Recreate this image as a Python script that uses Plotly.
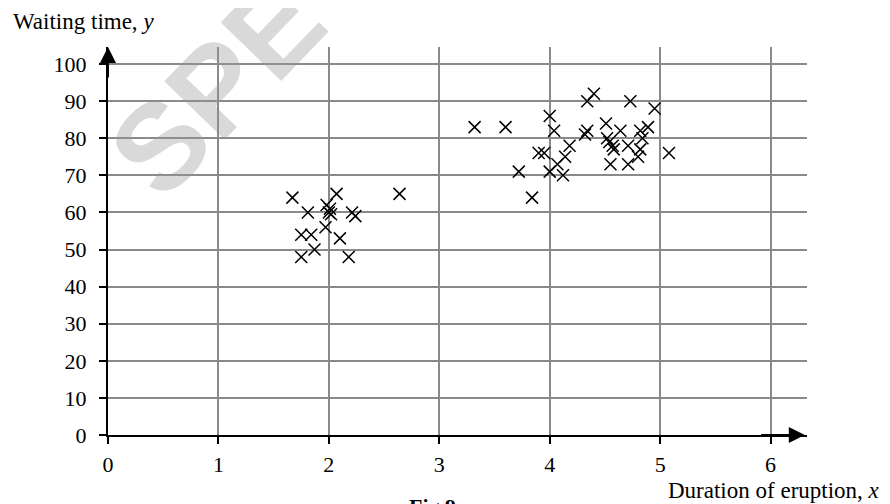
import plotly.graph_objects as go

# Duration of eruption (x) and waiting time (y)
duration = [1.67, 2.07, 1.81, 1.98, 2.00, 2.02, 2.01, 2.21, 2.24, 1.97, 1.75, 1.84,
            2.10, 1.87, 1.75, 2.18, 2.64,
            3.32, 3.60, 4.00, 4.04, 4.18, 4.14, 3.90, 3.95, 4.07, 4.00, 3.72, 4.12, 3.84,
            4.40, 4.34, 4.73, 4.95, 4.51, 4.34, 4.32, 4.64, 4.82, 4.89, 4.84, 4.52, 4.54,
            4.57, 4.58, 4.71, 4.82, 4.80, 4.55, 4.71, 5.08]
waiting = [64, 65, 60, 62, 60, 59.5, 61, 60, 59, 56, 54, 54,
           53, 50, 48, 48, 65,
           83, 83, 86, 82, 78, 75, 76, 76, 73, 71, 71, 70, 64,
           92, 90, 90, 88, 84, 82, 81, 82, 82, 83, 80, 80, 79,
           78, 77, 78, 77, 75, 73, 73, 76]

x_ticks = [0, 1, 2, 3, 4, 5, 6]
y_ticks = [0, 10, 20, 30, 40, 50, 60, 70, 80, 90, 100]

SERIF = "Liberation Serif"
GRID = "#8a8a8a"

# page has an 8px body margin; figure coordinates = page coordinates - 8
OFF = 8
FW, FH = 882, 496
L, T = 108 - OFF, 47 - OFF
W, H = 699, 388
R, B = FW - L - W, FH - T - H

fig = go.Figure()
fig.add_trace(go.Scatter(
    x=duration, y=waiting, mode="markers",
    marker=dict(symbol="x-thin", size=12, line=dict(width=1.5, color="black"), color="black"),
    showlegend=False, cliponaxis=False,
))

fig.update_layout(
    width=FW, height=FH,
    margin=dict(l=L, r=R, t=T, b=B),
    paper_bgcolor="white", plot_bgcolor="white",
    font=dict(family=SERIF, size=22, color="black"),
    xaxis=dict(range=[0, 6.33], tickvals=x_ticks, ticktext=[str(v) for v in x_ticks],
               showgrid=True, gridcolor=GRID, gridwidth=2,
               zeroline=False, showline=True, linecolor="black", linewidth=2,
               ticks="outside", ticklen=7, tickwidth=1.5, tickcolor="black",
               ticklabelstandoff=2, tickfont=dict(family=SERIF, size=22, color="black")),
    yaxis=dict(range=[0, 104.6], tickvals=y_ticks, ticktext=[str(v) for v in y_ticks],
               showgrid=True, gridcolor=GRID, gridwidth=2,
               zeroline=False, showline=True, linecolor="black", linewidth=2,
               ticks="outside", ticklen=7, tickwidth=1.5, tickcolor="black",
               ticklabelstandoff=8, tickfont=dict(family=SERIF, size=22, color="black")),
)

# axis arrowheads
fig.add_annotation(x=0, y=104.6, ax=0, ay=96, xref="x", yref="y", axref="x", ayref="y",
                   text="", showarrow=True, arrowhead=2, arrowsize=1.6, arrowwidth=2,
                   arrowcolor="black")
fig.add_annotation(x=6.31, y=0, ax=5.9, ay=0, xref="x", yref="y", axref="x", ayref="y",
                   text="", showarrow=True, arrowhead=2, arrowsize=1.6, arrowwidth=2,
                   arrowcolor="black")

def px(xp): return (xp - OFF - L) / W
def py(yp): return (T + H - (yp - OFF)) / H

fig.add_annotation(x=px(11), y=py(21), xref="paper", yref="paper", xanchor="left",
                   yanchor="middle", text="Waiting time, <i>y</i>", showarrow=False,
                   font=dict(family=SERIF, size=23))
fig.add_annotation(x=px(882), y=py(490), xref="paper", yref="paper", xanchor="right",
                   yanchor="middle", text="Duration of eruption, <i>x</i>", showarrow=False,
                   font=dict(family=SERIF, size=23))
fig.add_annotation(x=px(432), y=py(492), xref="paper", yref="paper", xanchor="center",
                   yanchor="top", text="<b>Fig 9</b>", showarrow=False,
                   font=dict(family=SERIF, size=22))

# watermark
fig.add_annotation(x=px(217), y=py(87), xref="paper", yref="paper", xanchor="center",
                   yanchor="middle", text="<b>SPE</b>", showarrow=False, textangle=-46,
                   font=dict(family="Liberation Sans", size=122,
                             color="rgba(150,150,150,0.36)"))

fig.write_html("out.html")
